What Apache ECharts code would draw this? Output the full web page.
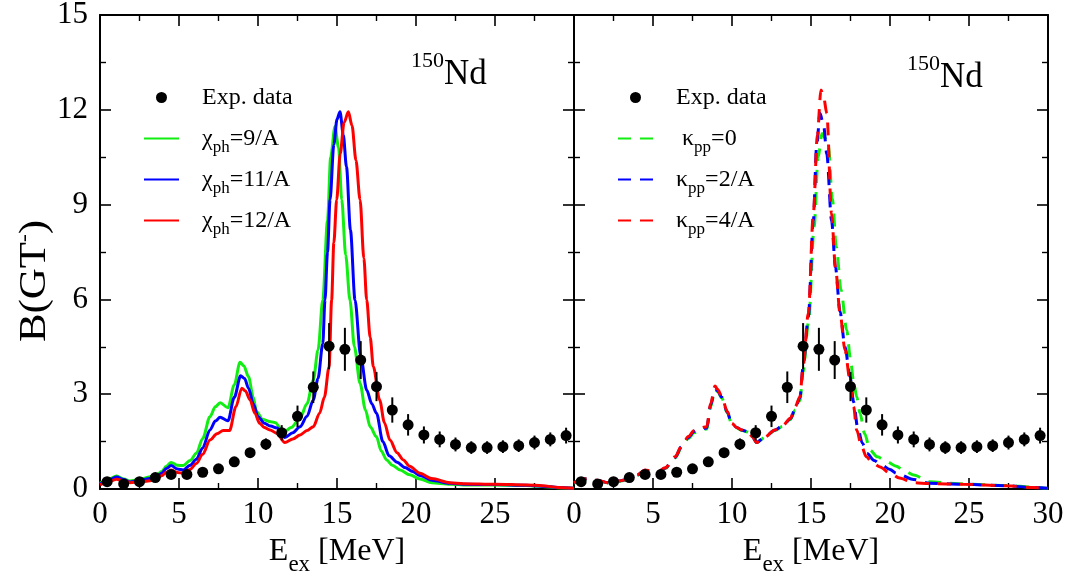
<!DOCTYPE html>
<html>
<head>
<meta charset="utf-8">
<script src="https://cdn.jsdelivr.net/npm/echarts@6/dist/echarts.min.js"></script>
<style>html,body{margin:0;padding:0;background:#fff}#c{width:1081px;height:581px}</style>
</head>
<body>
<div id="c"></div>
<script>
// ---------------- data ----------------
const expX = [0.45,1.5,2.5,3.5,4.5,5.5,6.5,7.5,8.5,9.5,10.5,11.5,12.5,13.5,14.5,15.5,16.5,17.5,18.5,19.5,20.5,21.5,22.5,23.5,24.5,25.5,26.5,27.5,28.5,29.5];
const expY = [0.23,0.16,0.23,0.36,0.46,0.46,0.53,0.64,0.86,1.15,1.42,1.78,2.3,3.22,4.52,4.42,4.08,3.24,2.5,2.03,1.71,1.57,1.41,1.31,1.31,1.34,1.37,1.47,1.57,1.69];
const expErr = [0.1,0.1,0.1,0.1,0.1,0.1,0.1,0.1,0.12,0.15,0.18,0.24,0.34,0.5,0.73,0.68,0.6,0.46,0.4,0.34,0.27,0.25,0.22,0.2,0.2,0.2,0.2,0.22,0.22,0.25];

// left panel: chi_ph variation (solid)
const chi9 = [[0,0.18],[0.5,0.3],[1.05,0.41],[1.5,0.32],[1.9,0.25],[2.5,0.3],[3.16,0.39],[3.6,0.45],[3.9,0.55],[4.2,0.72],[4.5,0.84],[4.9,0.75],[5.27,0.74],[5.7,0.9],[6.1,1.13],[6.5,1.6],[6.96,2.29],[7.3,2.6],[7.6,2.73],[8.1,2.57],[8.5,3.3],[8.86,4.01],[9.1,3.9],[9.4,3.55],[9.7,2.9],[9.9,2.45],[10.3,2.2],[10.8,2.13],[11.1,2.1],[11.6,1.78],[12.1,1.95],[12.66,2.24],[13.1,2.7],[13.5,3.45],[13.8,4.4],[14.1,5.98],[14.4,8.5],[14.6,10.5],[14.87,11.47],[15.1,10.8],[15.3,9.15],[15.55,7.4],[15.82,5.98],[16.1,4.5],[16.46,3.34],[16.8,2.5],[17.1,1.97],[17.5,1.65],[17.8,1.2],[18.14,0.92],[18.5,0.75],[19,0.6],[19.6,0.45],[20.25,0.32],[21,0.2],[22.15,0.15],[23,0.13],[25,0.13],[27,0.11],[28,0.08],[29,0.04],[30,0.02]];
const chi11 = [[0,0.16],[0.5,0.27],[1.05,0.38],[1.5,0.3],[1.9,0.22],[2.5,0.27],[3.16,0.33],[3.6,0.4],[3.9,0.5],[4.2,0.65],[4.5,0.74],[4.9,0.63],[5.27,0.6],[5.7,0.75],[6.1,0.94],[6.5,1.3],[6.96,1.87],[7.3,2.15],[7.6,2.27],[8.1,2.16],[8.5,2.9],[8.9,3.58],[9.15,3.5],[9.4,3.19],[9.7,2.7],[10.0,2.29],[10.4,2.08],[10.8,1.99],[11.2,1.93],[11.7,1.63],[12.2,1.78],[12.66,1.97],[13.1,2.3],[13.5,2.82],[13.8,3.5],[14.1,4.6],[14.24,5.98],[14.4,7.5],[14.56,9.15],[14.8,10.9],[15.0,11.7],[15.19,11.94],[15.4,11.2],[15.6,10.2],[15.85,8.2],[16.14,5.98],[16.5,4.2],[16.88,3.13],[17.2,2.7],[17.5,2.4],[17.9,1.5],[18.3,1.05],[18.8,0.85],[19.3,0.68],[19.8,0.55],[20.25,0.43],[21,0.28],[22.15,0.18],[23,0.15],[25,0.14],[27,0.12],[28,0.09],[29,0.05],[30,0.02]];
const chi12 = [[0,0.13],[0.5,0.22],[1.05,0.31],[1.5,0.26],[1.9,0.2],[2.5,0.22],[3.16,0.26],[3.6,0.32],[3.9,0.42],[4.2,0.53],[4.5,0.6],[4.9,0.52],[5.27,0.5],[5.7,0.62],[6.1,0.81],[6.5,1.1],[6.96,1.55],[7.4,1.75],[7.8,1.85],[8.2,1.85],[8.6,2.6],[8.97,3.19],[9.2,3.1],[9.5,2.82],[9.8,2.4],[10.1,2.08],[10.4,1.95],[10.76,1.87],[11.2,1.76],[11.7,1.47],[12.2,1.58],[12.66,1.71],[13.1,1.85],[13.5,1.97],[13.9,2.4],[14.2,2.9],[14.5,3.87],[14.66,5.98],[14.8,7.8],[14.98,9.15],[15.2,10.6],[15.45,11.6],[15.72,11.94],[15.95,11.5],[16.2,10.4],[16.46,9.15],[16.7,7.3],[16.88,5.98],[17.1,4.8],[17.3,3.87],[17.7,2.82],[18.0,2.1],[18.35,1.55],[18.8,1.15],[19.2,0.92],[19.6,0.72],[20.25,0.5],[21,0.33],[22.15,0.2],[23,0.17],[25,0.15],[27,0.13],[28,0.1],[29,0.05],[30,0.02]];

// right panel: kappa_pp variation (dashed)
const kap0 = [[0,0.19],[0.9,0.32],[1.5,0.26],[2.17,0.19],[2.8,0.24],[3.43,0.3],[4.0,0.43],[4.49,0.58],[4.9,0.55],[5.33,0.53],[5.76,0.65],[6.4,0.98],[6.8,1.3],[7.24,1.6],[7.6,1.78],[7.87,1.85],[8.4,1.9],[8.65,2.6],[8.92,3.15],[9.1,3.08],[9.35,2.88],[9.7,2.42],[9.98,2.06],[10.3,1.94],[10.6,1.86],[11.0,1.8],[11.3,1.64],[11.55,1.47],[12.1,1.64],[12.7,1.85],[13.2,1.98],[13.7,2.2],[14.0,2.5],[14.3,2.8],[14.5,3.7],[14.85,5.3],[15.2,8.3],[15.45,10.5],[15.7,11.25],[15.9,11.1],[16.1,10.83],[16.35,9.2],[16.6,7.67],[16.9,6.3],[17.26,5.03],[17.5,4.1],[17.68,3.45],[17.9,2.9],[18.1,2.4],[18.4,1.75],[18.73,1.23],[19.2,1.02],[19.8,0.86],[20.4,0.72],[20.84,0.6],[21.5,0.44],[22.5,0.23],[24.6,0.16],[27.4,0.11],[29,0.06],[30,0.02]];
const kap2 = [[0,0.2],[0.9,0.33],[1.5,0.27],[2.17,0.2],[2.8,0.25],[3.43,0.31],[4.0,0.44],[4.49,0.59],[4.9,0.56],[5.33,0.54],[5.76,0.66],[6.4,1.0],[6.8,1.33],[7.24,1.63],[7.6,1.82],[7.87,1.88],[8.4,1.93],[8.65,2.65],[8.92,3.2],[9.1,3.1],[9.35,2.9],[9.7,2.44],[9.98,2.07],[10.3,1.95],[10.6,1.87],[11.0,1.81],[11.3,1.65],[11.55,1.47],[12.1,1.65],[12.7,1.86],[13.2,1.99],[13.7,2.22],[14.0,2.55],[14.3,2.88],[14.5,3.85],[14.83,5.45],[15.15,8.5],[15.35,10.8],[15.57,11.89],[15.8,11.5],[16.0,10.6],[16.3,8.5],[16.55,7.0],[16.84,5.6],[17.15,4.5],[17.47,3.55],[17.7,2.75],[17.95,1.95],[18.25,1.45],[18.55,1.12],[19.0,0.9],[19.4,0.78],[20.0,0.62],[20.4,0.5],[21.5,0.3],[22.5,0.18],[24.6,0.15],[27.4,0.1],[29,0.05],[30,0.02]];
const kap4 = [[0,0.2],[0.9,0.34],[1.5,0.27],[2.17,0.2],[2.8,0.25],[3.43,0.31],[4.0,0.45],[4.49,0.6],[4.9,0.57],[5.33,0.55],[5.76,0.67],[6.4,1.02],[6.8,1.35],[7.24,1.66],[7.6,1.85],[7.87,1.92],[8.4,1.97],[8.65,2.7],[8.92,3.26],[9.1,3.15],[9.35,2.92],[9.7,2.45],[9.98,2.08],[10.3,1.95],[10.6,1.87],[11.0,1.81],[11.3,1.65],[11.55,1.47],[12.1,1.65],[12.7,1.87],[13.2,2.0],[13.7,2.24],[14.0,2.6],[14.3,2.92],[14.5,3.9],[14.83,5.56],[15.15,8.72],[15.4,11.2],[15.63,12.63],[15.8,12.4],[16.0,11.89],[16.3,8.72],[16.55,7.0],[16.84,5.56],[17.15,4.4],[17.47,3.45],[17.7,2.6],[17.89,1.87],[18.2,1.35],[18.5,1.02],[18.9,0.82],[19.37,0.7],[20.0,0.5],[20.6,0.35],[21.5,0.2],[22.5,0.17],[24.6,0.15],[27.4,0.1],[29,0.05],[30,0.02]];

const xTicks = { min: 0, max: 30, interval: 5 };
const yTicks = { min: 0, max: 15, interval: 3 };
const leftNames = ['χph=9/A', 'χph=11/A', 'χph=12/A'];
const rightNames = ['κpp=0', 'κpp=2/A', 'κpp=4/A'];
const richNames = {
  'Exp. data': '{a|Exp. data}{sub| }',
  'χph=9/A': '{a|χ}{sub|ph}{a|=9/A}',
  'χph=11/A': '{a|χ}{sub|ph}{a|=11/A}',
  'χph=12/A': '{a|χ}{sub|ph}{a|=12/A}',
  'κpp=0': '{a| κ}{sub|pp}{a|=0}',
  'κpp=2/A': '{a|κ}{sub|pp}{a|=2/A}',
  'κpp=4/A': '{a|κ}{sub|pp}{a|=4/A}'
};
const colors = ['#11ee11', '#0000ff', '#ff0000'];

// ---------------- chart ----------------
const FONT = 'Liberation Serif';
const chart = echarts.init(document.getElementById('c'), null, { renderer: 'canvas' });
const grids = [
  { left: 100, top: 15, width: 474, height: 474, outerBoundsMode: 'none', containLabel: false },
  { left: 574, top: 15, width: 474, height: 474, outerBoundsMode: 'none', containLabel: false }
];
const tickBase = {
  axisLine: { show: true, onZero: false, lineStyle: { color: '#000', width: 2 } },
  axisTick: { show: true, inside: true, length: 11, lineStyle: { color: '#000', width: 1.6 } },
  minorTick: { show: true, splitNumber: 2, length: 6, lineStyle: { color: '#000', width: 1.4 } },
  splitLine: { show: false }
};
const labelStyle = { color: '#000', fontFamily: FONT, fontSize: 31 };
const xName = '{a|E}{sub|ex}{a| [MeV]}';
const xNameStyle = {
  color: '#000', fontFamily: FONT,
  rich: {
    a: { fontFamily: FONT, fontSize: 32, lineHeight: 36, color: '#000' },
    sub: { fontFamily: FONT, fontSize: 23, lineHeight: 20, padding: [26, 0, 0, 0], color: '#000' }
  }
};
function xAx(grid, pos, showLabel, hideLast) {
  return Object.assign({}, tickBase, {
    type: 'value', gridIndex: grid, position: pos,
    min: xTicks.min, max: xTicks.max, interval: xTicks.interval,
    axisLabel: {
      show: showLabel, margin: 10, ...labelStyle,
      formatter: v => (hideLast && v === xTicks.max) ? '' : String(v)
    },
    name: showLabel ? xName : '', nameLocation: 'middle', nameGap: 45,
    nameMoveOverlap: false,
    nameTextStyle: xNameStyle
  });
}
function yAx(grid, pos, showLabel) {
  return Object.assign({}, tickBase, {
    type: 'value', gridIndex: grid, position: pos,
    min: yTicks.min, max: yTicks.max, interval: yTicks.interval,
    axisLabel: { show: showLabel, margin: 12, ...labelStyle }
  });
}

const errRender = function (params, api) {
  const x = api.value(0), y = api.value(1), e = api.value(2);
  const p1 = api.coord([x, y - e]);
  const p2 = api.coord([x, y + e]);
  return { type: 'line', shape: { x1: p1[0], y1: p1[1], x2: p2[0], y2: p2[1] }, style: { stroke: '#000', lineWidth: 2 } };
};
const expPts = expX.map((x, i) => [x, expY[i]]);
const expErrData = expX.map((x, i) => [x, expY[i], expErr[i]]);

function lineSeries(name, data, color, axis, dashed) {
  return {
    type: 'line', name: name, data: data, xAxisIndex: axis, yAxisIndex: axis,
    symbol: 'none', smooth: 0.3, smoothMonotone: 'x', clip: true, z: 3,
    lineStyle: { color: color, width: 3, type: dashed ? [13, 9] : 'solid' },
    itemStyle: { color: 'rgba(0,0,0,0)' }
  };
}
const series = [];
[0, 1].forEach(g => {
  series.push({
    type: 'custom', name: 'err' + g, renderItem: errRender, data: expErrData,
    xAxisIndex: g, yAxisIndex: g, encode: { x: 0, y: 1 }, z: 5, silent: true
  });
});
[chi9, chi11, chi12].forEach((d, i) => series.push(lineSeries(leftNames[i], d, colors[i], 0, false)));
[kap0, kap2, kap4].forEach((d, i) => series.push(lineSeries(rightNames[i], d, colors[i], 1, true)));
[0, 1].forEach(g => {
  series.push({
    type: 'scatter', name: 'Exp. data', data: expPts, xAxisIndex: g, yAxisIndex: g,
    symbol: 'circle', symbolSize: 11, itemStyle: { color: '#000', opacity: 1 }, z: 6
  });
});

const legendRich = {
  sp: { width: 18 },
  a: { fontFamily: FONT, fontSize: 24, lineHeight: 36, color: '#000' },
  sub: { fontFamily: FONT, fontSize: 17, lineHeight: 18, padding: [18, 0, 0, 0], color: '#000' }
};
function legend(left, names) {
  return {
    orient: 'vertical', left: left, top: 80, itemWidth: 35, itemHeight: 11, itemGap: 6,
    padding: 0, selectedMode: false,
    data: ['Exp. data'].concat(names),
    formatter: n => '{sp|}' + richNames[n],
    textStyle: { rich: legendRich }
  };
}

const nucRich = {
  sup: { fontFamily: FONT, fontSize: 22, lineHeight: 20, padding: [0, 0, 28, 0], color: '#000' },
  big: { fontFamily: FONT, fontSize: 35, lineHeight: 48, color: '#000' }
};

const option = {
  animation: false,
  backgroundColor: '#fff',
  grid: grids,
  xAxis: [
    xAx(0, 'bottom', true, true),
    xAx(1, 'bottom', true, false),
    xAx(0, 'top', false, false),
    xAx(1, 'top', false, false)
  ],
  yAxis: [
    yAx(0, 'left', true),
    yAx(1, 'left', false),
    yAx(0, 'right', false),
    yAx(1, 'right', false)
  ],
  legend: [legend(143, leftNames), legend(617, rightNames)],
  graphic: [
    { type: 'text', x: 411, y: 75, style: { text: '{sup|150}{big|Nd}', rich: nucRich, verticalAlign: 'middle', align: 'left' } },
    { type: 'text', x: 907, y: 78, style: { text: '{sup|150}{big|Nd}', rich: nucRich, verticalAlign: 'middle', align: 'left' } },
    { type: 'text', x: 35, y: 281, rotation: Math.PI / 2, scaleX: 1.16,
      style: { text: '{a|B(GT}{sup|-}{a|)}', align: 'center', verticalAlign: 'middle',
        rich: {
          a: { fontFamily: FONT, fontSize: 37, lineHeight: 40, color: '#000' },
          sup: { fontFamily: FONT, fontSize: 20, lineHeight: 20, padding: [0, 0, 20, 0], color: '#000' }
        } } }
  ],
  series: series
};
chart.setOption(option);
</script>
</body>
</html>
